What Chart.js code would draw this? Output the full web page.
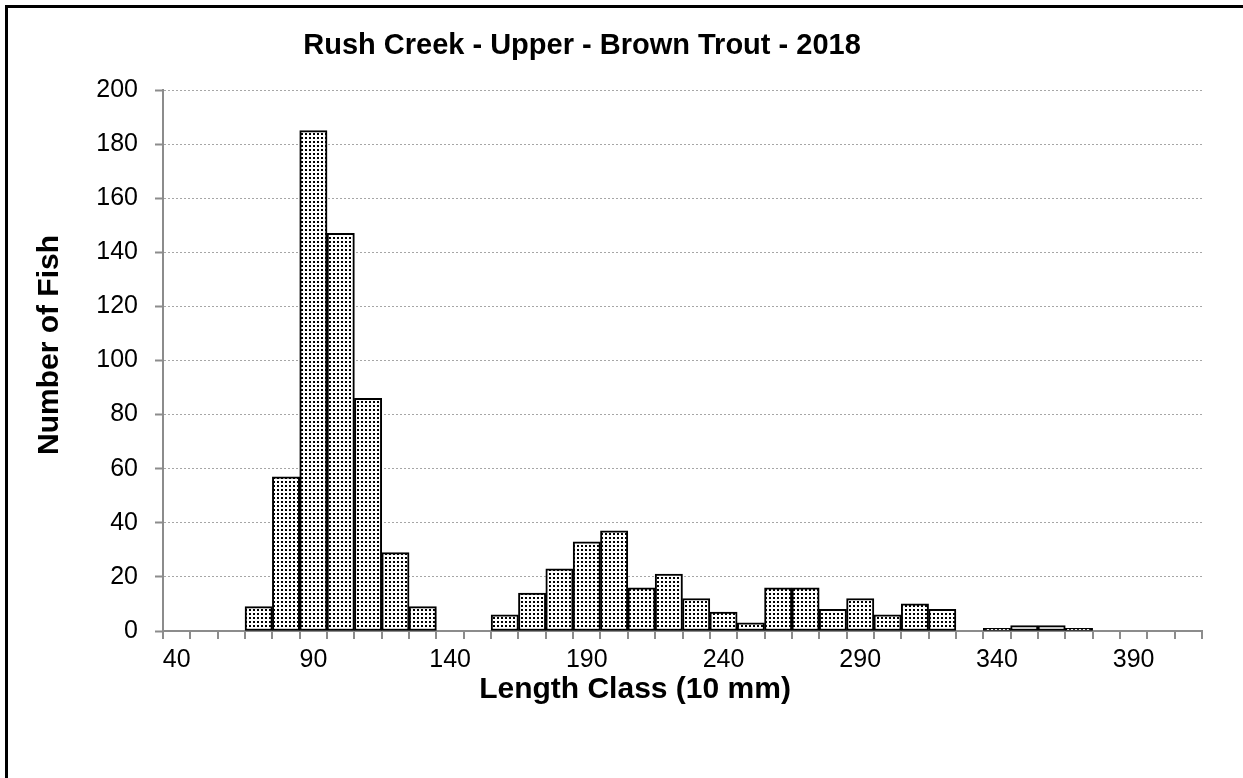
<!DOCTYPE html>
<html>
<head>
<meta charset="utf-8">
<script src="https://cdn.jsdelivr.net/npm/chart.js@4.4.0/dist/chart.umd.min.js"></script>
<style>
  html, body { margin: 0; padding: 0; background: #fff; overflow: hidden; }
  #wrap { position: relative; width: 1243px; height: 778px; }
  #frame { position: absolute; left: 5px; top: 5px; width: 1400px; height: 900px; border: 3px solid #000; box-sizing: border-box; }
  canvas { position: absolute; left: 0; top: 0; }
</style>
</head>
<body>
<div id="wrap">
  <div id="frame"></div>
  <canvas id="chart" width="1243" height="778"></canvas>
</div>
<script>
// length classes (10 mm) and fish counts
const lengthClass = [40, 50, 60, 70, 80, 90, 100, 110, 120, 130, 140, 150, 160, 170, 180, 190, 200, 210, 220,
  230, 240, 250, 260, 270, 280, 290, 300, 310, 320, 330, 340, 350, 360, 370, 380, 390, 400, 410];
const fishCount = [0, 0, 0, 9, 57, 185, 147, 86, 29, 9, 0, 0, 6, 14, 23, 33, 37, 16, 21,
  12, 7, 3, 16, 16, 8, 12, 6, 10, 8, 0, 1, 2, 2, 1, 0, 0, 0, 0];
const xTickLabels = [40, 90, 140, 190, 240, 290, 340, 390];
const yMax = 200;
const yStep = 20;

const chartTitle = 'Rush Creek - Upper - Brown Trout - 2018';
const xTitle = 'Length Class (10 mm)';
const yTitle = 'Number of Fish';

const FONT = '"Liberation Sans", Arial, sans-serif';

// dotted fill like the excel pattern
function dotPattern() {
  const c = document.createElement('canvas');
  c.width = 4; c.height = 4;
  const g = c.getContext('2d');
  g.fillStyle = '#fff';
  g.fillRect(0, 0, 4, 4);
  g.fillStyle = '#000';
  g.fillRect(1, 1, 2, 2);
  return g.createPattern(c, 'repeat');
}

// titles are placed by hand, excel doesn't center them on the plot
const titlePlugin = {
  id: 'titles',
  afterDraw(chart) {
    const c = chart.ctx;
    c.save();
    c.fillStyle = '#000';
    c.textAlign = 'center';
    c.textBaseline = 'middle';
    c.font = 'bold 29px ' + FONT;
    c.fillText(chartTitle, 582, 46);
    c.font = 'bold 30px ' + FONT;
    c.fillText(xTitle, 635, 690);
    c.translate(50, 345);
    c.rotate(-Math.PI / 2);
    c.fillText(yTitle, 0, 0);
    c.restore();
  }
};

const axisGray = '#8c8c8c';
const ctx = document.getElementById('chart').getContext('2d');

new Chart(ctx, {
  type: 'bar',
  data: {
    labels: lengthClass,
    datasets: [{
      data: fishCount,
      backgroundColor: dotPattern(),
      borderColor: '#000',
      borderWidth: 2,
      borderSkipped: false,
      barPercentage: 1,
      categoryPercentage: 1
    }]
  },
  options: {
    responsive: false,
    animation: false,
    layout: { padding: { left: 0, top: 90, right: 41, bottom: 0 } },
    plugins: {
      legend: { display: false },
      tooltip: { enabled: false }
    },
    scales: {
      x: {
        afterFit: (s) => { s.height = 147; },
        ticks: {
          autoSkip: false,
          maxRotation: 0,
          padding: 6,
          color: '#000',
          font: { family: FONT, size: 25 },
          callback: function (v) {
            const lab = this.getLabelForValue(v);
            return xTickLabels.includes(Number(lab)) ? String(lab) : '';
          }
        },
        grid: { drawOnChartArea: false, drawTicks: true, tickLength: 8, color: axisGray, lineWidth: 2 },
        border: { display: true, color: axisGray, width: 2 }
      },
      y: {
        min: 0,
        max: yMax,
        afterFit: (s) => { s.width = 163; },
        ticks: {
          stepSize: yStep,
          padding: 17,
          color: '#000',
          font: { family: FONT, size: 25 }
        },
        grid: { color: '#a6a6a6', lineWidth: 1, tickLength: 8, tickColor: axisGray, tickWidth: 2 },
        border: { display: true, color: axisGray, width: 2, dash: [2, 2] }
      }
    }
  },
  plugins: [titlePlugin]
});
</script>
</body>
</html>
